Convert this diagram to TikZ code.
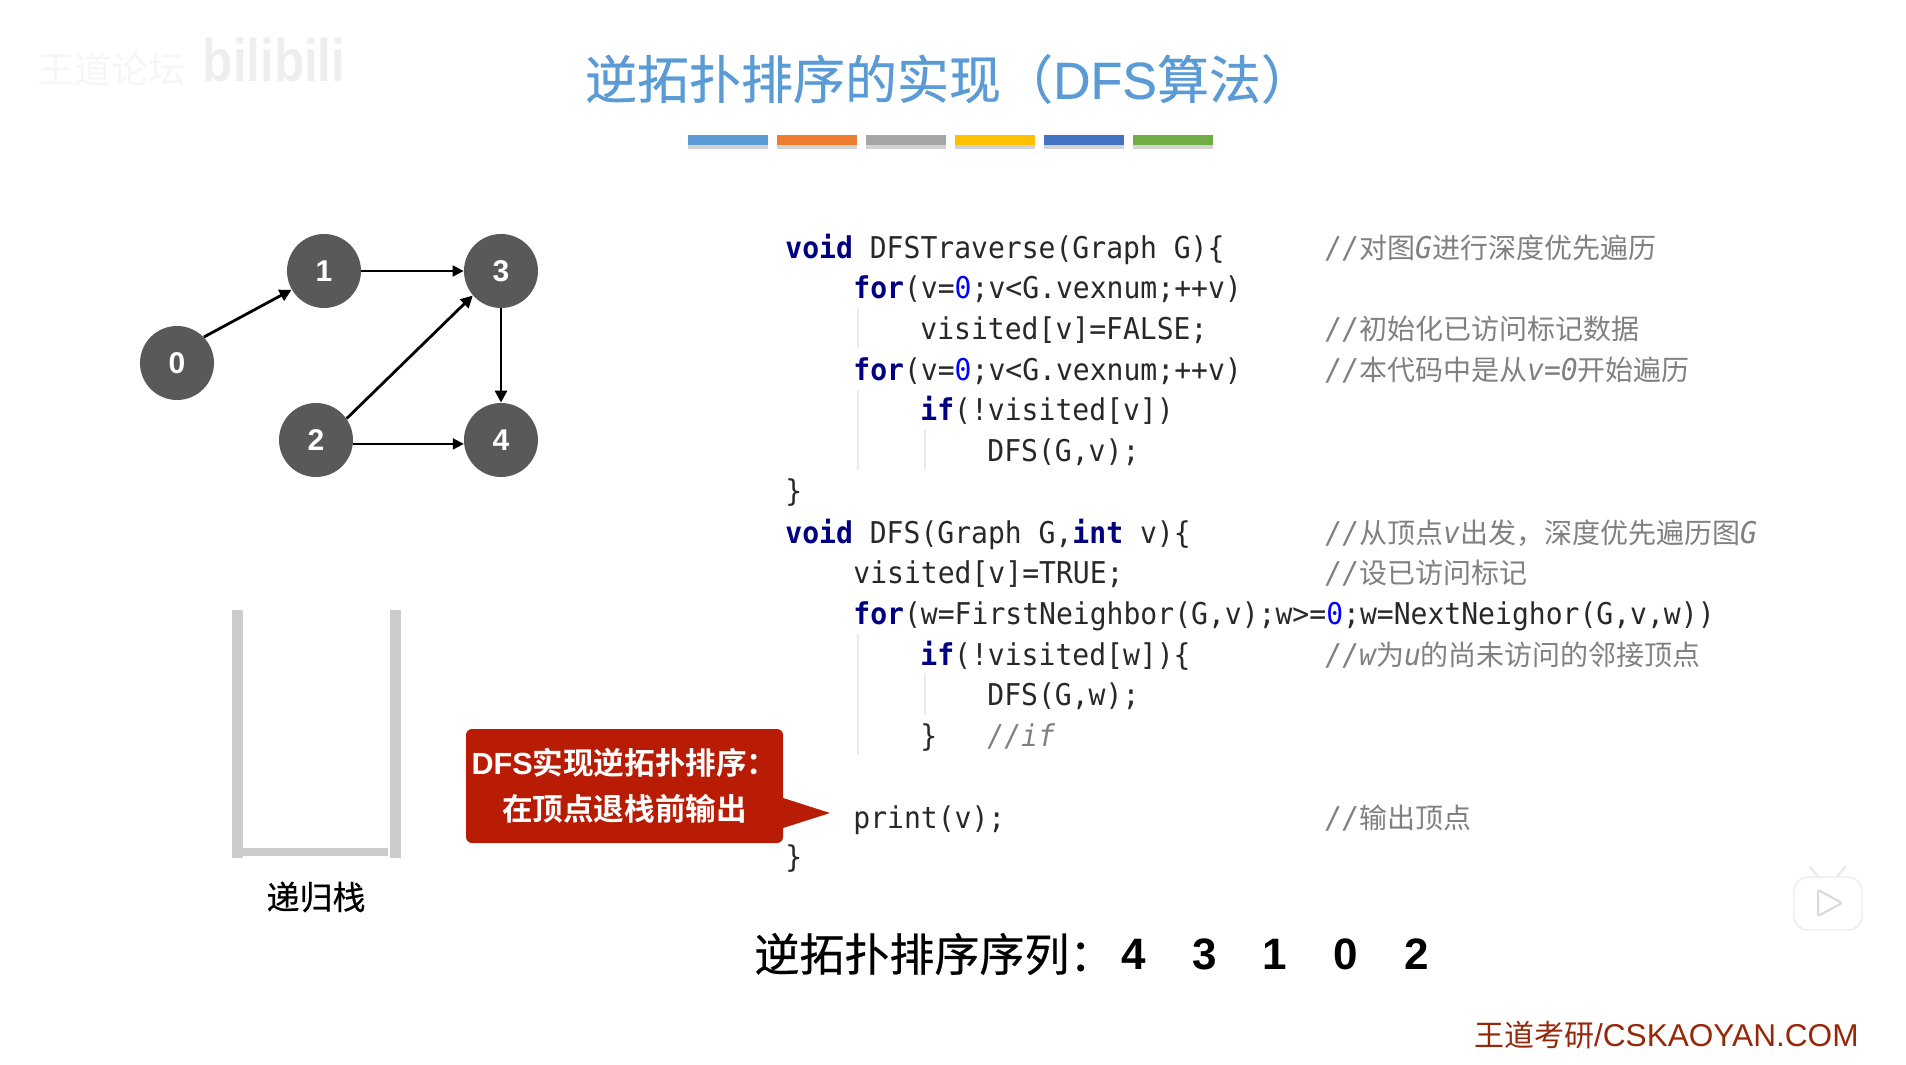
\documentclass[tikz,border=0pt]{standalone}
\usepackage{fontspec}
\usepackage{xcolor}
\usetikzlibrary{positioning,arrows.meta,shadows}
\setmainfont{Liberation Sans}
\newfontfamily\cjkfont{Noto Sans CJK SC}
\newfontfamily\cjkmedium[FakeBold=0.5]{Noto Sans CJK SC}
\newfontfamily\cjkbold[BoldFont={* Bold}]{Noto Sans CJK SC}
\newfontfamily\titlefont[FakeBold=0.6]{Liberation Sans}
\newfontfamily\logofont[FakeStretch=0.82]{Liberation Sans}
\newfontfamily\codefont[FakeStretch=0.935]{DejaVu Sans Mono}
\definecolor{titleblue}{RGB}{ 91,155,213}
\definecolor{barorange}{RGB}{237,125, 49}
\definecolor{bargray}{RGB}{165,165,165}
\definecolor{baryellow}{RGB}{255,192,  0}
\definecolor{barblue}{RGB}{ 68,114,196}
\definecolor{bargreen}{RGB}{112,173, 71}
\definecolor{vertexfill}{RGB}{ 89, 89, 89}
\definecolor{stackline}{RGB}{204,204,204}
\definecolor{callfill}{RGB}{184, 28,  4}
\definecolor{codetext}{RGB}{ 40, 40, 40}
\definecolor{cmttext}{RGB}{128,128,128}
\definecolor{kwblue}{RGB}{  0,  0,128}
\definecolor{zeroblue}{RGB}{  0,  0,255}
\definecolor{guideline}{RGB}{235,235,235}
\definecolor{footred}{RGB}{150, 40, 10}
\definecolor{markgray}{RGB}{246,246,246}
\definecolor{logogray}{RGB}{238,238,238}
\definecolor{tvline}{RGB}{235,235,235}
\newcommand{\kw}[1]{{\bfseries\color{kwblue}#1}}
\newcommand{\zero}{{\color{zeroblue}0}}
\newcommand{\cn}[1]{{\upshape\mdseries\fontsize{14}{18}\selectfont\cjkfont #1}}

\begin{document}
\begin{tikzpicture}[
    x=0.5pt,y=-0.5pt,
    vertex/.style={circle,fill=vertexfill,text=white,minimum size=37pt,inner sep=0pt,
                   font=\fontsize{15}{18}\selectfont\bfseries},
    edgethin/.style={-{Triangle[length=5.5pt,width=5.5pt]},line width=1pt},
    edgethick/.style={-{Triangle[length=6pt,width=6pt]},line width=1.4pt},
    colorbar/.style={minimum width=40pt,minimum height=5pt,inner sep=0pt,
                     drop shadow={shadow xshift=0pt,shadow yshift=-2pt,opacity=0.35}},
    stackbar/.style={fill=stackline,inner sep=0pt},
    code/.style={anchor=base west,inner sep=0pt,text=codetext,
                 font=\fontsize{15}{18}\selectfont\codefont},
    cmt/.style={anchor=base west,inner sep=0pt,text=cmttext,
                font=\fontsize{15}{18}\selectfont\codefont\itshape},
    guide/.style={draw=guideline,line width=0.7pt},
    seqnum/.style={inner sep=0pt,font=\fontsize{22}{26}\selectfont\bfseries,text=black},
]
\useasboundingbox (0,0) rectangle (1906,1065);

% --- faint marks ---
\node[text=markgray,font=\fontsize{18.5}{20}\selectfont\cjkfont] (markname) at (111,69) {王道论坛};
\node[text=logogray,font=\fontsize{30}{36}\selectfont\logofont\bfseries] (marklogo) at (274,60) {bilibili};
\draw[tvline,line width=0.7pt,fill=white,rounded corners=7pt]
    (1794,877) rectangle (1862,930);
\draw[tvline,line width=1.2pt,line cap=round] (1818,877) -- (1810,867) (1837,877) -- (1845,867);
\draw[white!85!black,line width=1pt,rounded corners=1pt] (1818,890) -- (1842,903) -- (1818,916) -- cycle;

% --- title ---
\node[text=titleblue,font=\fontsize{26}{30}\selectfont\cjkmedium,inner sep=0pt] (title) at (949,79)
    {逆拓扑排序的实现（{\titlefont DFS}算法）};
\node[colorbar,fill=titleblue] (b1) at (728,140) {};
\node[colorbar,fill=barorange,right=4.05pt of b1] (b2) {};
\node[colorbar,fill=bargray,right=4.05pt of b2]   (b3) {};
\node[colorbar,fill=baryellow,right=4.05pt of b3] (b4) {};
\node[colorbar,fill=barblue,right=4.05pt of b4]   (b5) {};
\node[colorbar,fill=bargreen,right=4.05pt of b5]  (b6) {};

% --- graph ---
\node[vertex] (v0) at (177,363) {0};
\node[vertex] (v1) at (324,271) {1};
\node[vertex] (v3) at (501,271) {3};
\node[vertex] (v2) at (316,440) {2};
\node[vertex] (v4) at (501,440) {4};
\draw[edgethick] (v0.44) -- (v1.210);
\draw[edgethin]  (v1) -- (v3);
\draw[edgethick] (v2.35) -- (v3.221);
\draw[edgethin]  (v2.-6) -- (v4.186);
\draw[edgethick] (v3) -- (v4);

% --- stack ---
\fill[stackbar] (232,610) rectangle (243,858);
\fill[stackbar] (390,610) rectangle (401,858);
\fill[stackbar] (243,848) rectangle (388,856);
\node[font=\fontsize{16.5}{20}\selectfont\cjkmedium,inner sep=0pt] (stacklabel) at (316,897) {递归栈};

% --- callout ---
\coordinate (tip) at (830,813);
\coordinate (tipa) at (780,797);
\coordinate (tipb) at (780,829);
\node[fill=callfill,rounded corners=3pt,minimum width=158.5pt,minimum height=57pt,inner sep=0pt,
      text=white,align=center,font=\fontsize{15.3}{23}\selectfont\cjkbold\bfseries] (callbox) at (624.5,786)
    {{\rmfamily DFS}实现逆拓扑排序：\\在顶点退栈前输出};
\fill[callfill] (tipa) -- (tip) -- (tipb) -- cycle;

% --- code ---
\foreach \gx/\gya/\gyb in {858/308/348,858/390/470,925/430/470,858/634/755,925/673/715}
    \draw[guide] (\gx,\gya) -- (\gx,\gyb);

\node[code] (l1)  at (785,258) {\kw{void} DFSTraverse(Graph G)\{};
\node[code] (l2)  at (853,298) {\kw{for}(v=\zero;v<G.vexnum;++v)};
\node[code] (l3)  at (920,339) {visited[v]=FALSE;};
\node[code] (l4)  at (853,380) {\kw{for}(v=\zero;v<G.vexnum;++v)};
\node[code] (l5)  at (920,420) {\kw{if}(!visited[v])};
\node[code] (l6)  at (987,461) {DFS(G,v);};
\node[code] (l7)  at (785,501) {\}};
\node[code] (l8)  at (785,543) {\kw{void} DFS(Graph G,\kw{int} v)\{};
\node[code] (l9)  at (853,583) {visited[v]=TRUE;};
\node[code] (l10) at (853,624) {\kw{for}(w=FirstNeighbor(G,v);w>=\zero;w=NextNeighor(G,v,w))};
\node[code] (l11) at (920,665) {\kw{if}(!visited[w])\{};
\node[code] (l12) at (987,705) {DFS(G,w);};
\node[code] (l13) at (920,746) {\}};
\node[cmt]  (l14) at (987,746) {//if};
\node[code] (l15) at (853,828) {print(v);};
\node[code] (l16) at (785,867) {\}};

% comments
\node[cmt] (c1)  at (1325,258) {//\cn{对图}G\cn{进行深度优先遍历}};
\node[cmt] (c3)  at (1325,339) {//\cn{初始化已访问标记数据}};
\node[cmt] (c4)  at (1325,380) {//\cn{本代码中是从}v=0\cn{开始遍历}};
\node[cmt] (c8)  at (1325,543) {//\cn{从顶点}v\cn{出发，深度优先遍历图}G};
\node[cmt] (c9)  at (1325,583) {//\cn{设已访问标记}};
\node[cmt] (c11) at (1325,665) {//w\cn{为}u\cn{的尚未访问的邻接顶点}};
\node[cmt] (c15) at (1325,828) {//\cn{输出顶点}};

% --- result row ---
\node[inner sep=0pt,font=\fontsize{22.5}{25}\selectfont\cjkmedium,anchor=west] (seqlabel) at (754,954) {逆拓扑排序序列：};
\node[seqnum] (s4) at (1134,954) {4};
\node[seqnum] (s3) at (1205,954) {3};
\node[seqnum] (s1) at (1275,954) {1};
\node[seqnum] (s0) at (1346,954) {0};
\node[seqnum] (s2) at (1417,954) {2};

% --- footer ---
\node[text=footred,inner sep=0pt,anchor=east,font=\fontsize{15.8}{18}\selectfont] (foot) at (1859,1035)
    {{\fontsize{15}{18}\selectfont\cjkfont 王道考研}/CSKAOYAN.COM};
\end{tikzpicture}
\end{document}
